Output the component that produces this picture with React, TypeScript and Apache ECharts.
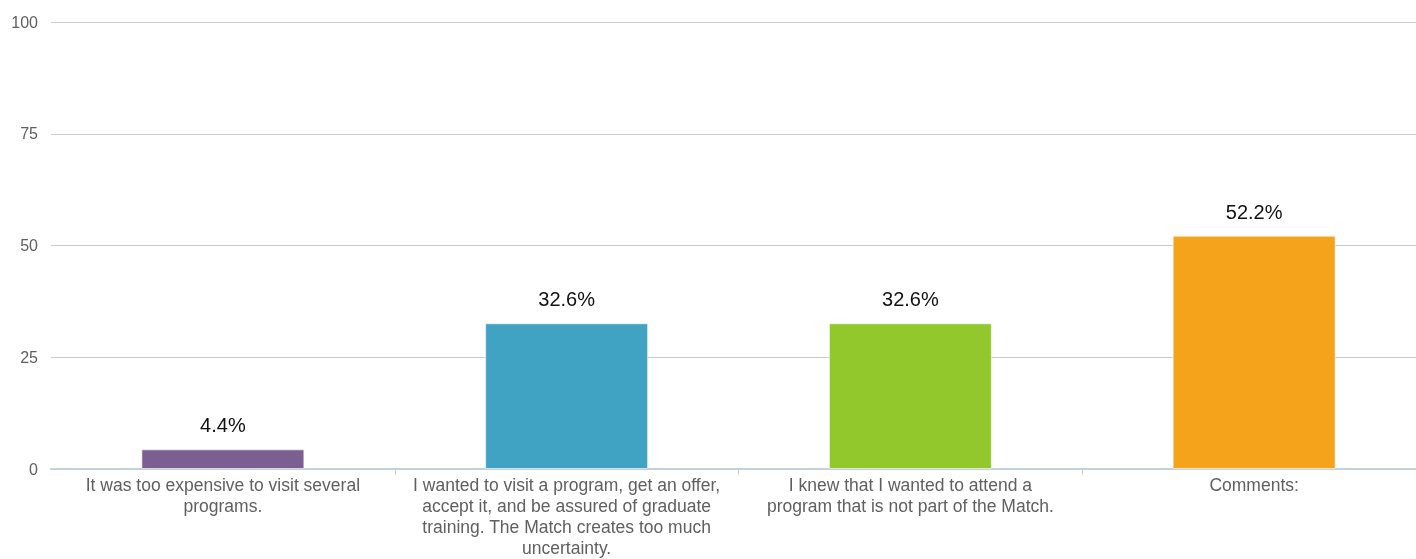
import React, { useEffect, useRef } from "react";
import * as echarts from "echarts";

const categories = [
  "It was too expensive to visit several\nprograms.",
  "I wanted to visit a program, get an offer,\naccept it, and be assured of graduate\ntraining. The Match creates too much\nuncertainty.",
  "I knew that I wanted to attend a\nprogram that is not part of the Match.",
  "Comments:",
];
const values = [4.4, 32.6, 32.6, 52.2];
const colors = ["#7b5f92", "#41a3c3", "#92c82b", "#f4a31b"];
const yTicks = [0, 25, 50, 75, 100];

const FONT = "Liberation Sans, Arial, Helvetica, sans-serif";

export default function App() {
  const ref = useRef<HTMLDivElement>(null);
  useEffect(() => {
    if (!ref.current) return;
    const chart = echarts.init(ref.current, null, { renderer: "svg" });
    chart.setOption({
      animation: false,
      grid: { left: 51, right: 0, top: 22, bottom: 90 },
      xAxis: {
        type: "category",
        data: categories,
        axisLine: { lineStyle: { color: "#c3d0df", width: 2 } },
        axisTick: {
          show: true,
          length: 6,
          interval: (i: number) => i > 0,
          lineStyle: { color: "#c3d0df" },
        },
        axisLabel: {
          interval: 0,
          color: "#606060",
          fontSize: 17.5,
          fontFamily: FONT,
          lineHeight: 21,
          margin: 5,
        },
      },
      yAxis: {
        type: "value",
        min: yTicks[0],
        max: yTicks[yTicks.length - 1],
        interval: 25,
        axisLine: { show: false },
        axisTick: { show: false },
        splitLine: { lineStyle: { color: "#cccccc", width: 1 } },
        axisLabel: {
          color: "#606060",
          fontSize: 16,
          fontFamily: FONT,
          margin: 13,
        },
      },
      series: [
        {
          type: "bar",
          barWidth: 163,
          data: values.map((v, i) => ({
            value: v,
            itemStyle: { color: colors[i], borderColor: "rgba(255,255,255,0.6)", borderWidth: 1 },
          })),
          label: {
            show: true,
            position: "top",
            distance: 14,
            formatter: (p: any) => p.value.toFixed(1) + "%",
            color: "#111111",
            fontSize: 20,
            fontFamily: FONT,
          },
        },
      ],
    });
    return () => chart.dispose();
  }, []);
  return (
    <div style={{ position: "fixed", left: 0, top: 0, width: 1416, height: 559, overflow: "hidden" }}>
      <div ref={ref} style={{ width: 1426, height: 559 }} />
    </div>
  );
}
